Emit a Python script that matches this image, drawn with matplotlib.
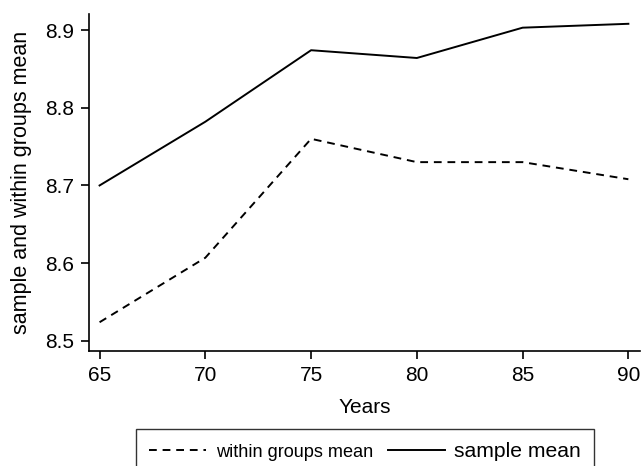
import matplotlib.pyplot as plt

plt.rcParams['font.family'] = ['Liberation Sans', 'DejaVu Sans']

years = [65, 70, 75, 80, 85, 90]
sample_mean = [8.700, 8.782, 8.874, 8.864, 8.903, 8.908]
within_mean = [8.524, 8.607, 8.760, 8.730, 8.730, 8.708]

fig = plt.figure(figsize=(6.41, 4.66), dpi=100)
ax = fig.add_axes([89 / 641, 115 / 466, 551 / 641, 337 / 466])

ax.plot(years, within_mean, color='black', linestyle=(0, (4, 3)),
        linewidth=1.4, label="within groups mean")
ax.plot(years, sample_mean, color='black', linestyle='-',
        linewidth=1.4, label="sample mean")

ax.set_xlim(64.5, 90.55)
ax.set_ylim(8.487, 8.9206)
ax.set_xticks([65, 70, 75, 80, 85, 90])
ax.set_yticks([8.5, 8.6, 8.7, 8.8, 8.9])
ax.set_yticklabels(["8.5", "8.6", "8.7", "8.8", "8.9"])

ax.spines['top'].set_visible(False)
ax.spines['right'].set_visible(False)
ax.spines['left'].set_linewidth(1.2)
ax.spines['bottom'].set_linewidth(1.2)
ax.tick_params(direction='out', length=6, width=1.2, labelsize=15, pad=5)

ax.set_xlabel("Years", fontsize=15, labelpad=9)
ax.set_ylabel("sample and within groups mean", fontsize=15.5, labelpad=9)

leg = fig.legend(loc='upper left', bbox_to_anchor=(136 / 641, 1 - 429 / 466),
                 ncol=2, frameon=True, fancybox=False, edgecolor='black',
                 fontsize=15.2, handlelength=2.7, handletextpad=0.45,
                 columnspacing=0.7, borderpad=0.62, borderaxespad=0)
leg.get_frame().set_linewidth(1.0)
leg.get_texts()[0].set_fontsize(13.1)

fig.savefig("out.png", dpi=100)
